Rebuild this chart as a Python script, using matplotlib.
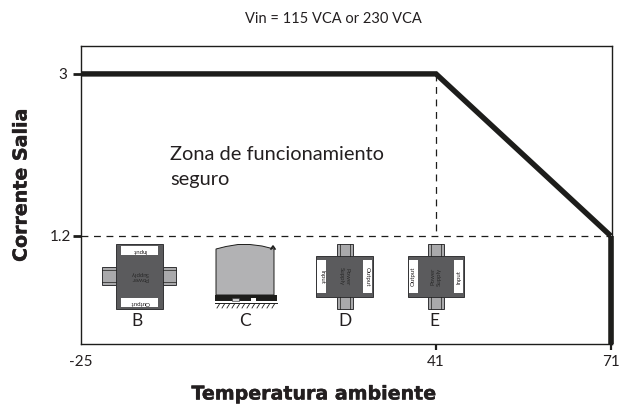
import numpy as np
import matplotlib
matplotlib.use("Agg")
import matplotlib.pyplot as plt
import matplotlib.patheffects as pe
from matplotlib.patches import Rectangle, Polygon

temp = [-25, 41, 71, 71]
current = [3, 3, 1.2, 0]
x_ticks = [-25, 41, 71]
y_ticks = [1.2, 3]
x_labels = ["-25", "41", "71"]
y_labels = ["1.2", "3"]

# the original x axis is not quite to scale, so piecewise
scale_in = [-25, 41, 71.2]
scale_out = [0, 355, 531]

DARK = "#5b5b5d"
RAIL = "#a9a9ab"
EDGE = "#1d1d1b"
TXT = "#231f20"

plt.rcParams["font.family"] = ["Lato", "DejaVu Sans"]

fig = plt.figure(figsize=(6.27, 4.07), dpi=100)
ax = fig.add_axes([81 / 627, 1 - 344 / 407, 531 / 627, 298 / 407])
ax.set_xscale("function", functions=(lambda v: np.interp(v, scale_in, scale_out),
                                     lambda v: np.interp(v, scale_out, scale_in)))
ax.set_xlim(-25, 71.2)
ax.set_ylim(0, 3.31)

ax.plot(temp[:3], current[:3], color=EDGE, lw=3.9, solid_capstyle="butt", solid_joinstyle="miter")
ax.plot(temp[2:], current[2:], color=EDGE, lw=4, solid_capstyle="butt", clip_on=False)
ax.plot([temp[1], temp[1]], [current[1], current[2]], color=EDGE, lw=0.9, dashes=(5.5, 4.5))
ax.plot([temp[0], temp[2]], [current[2], current[2]], color=EDGE, lw=0.9, dashes=(5.5, 4.5))

ax.set_xticks(x_ticks, x_labels)
ax.set_yticks(y_ticks, y_labels)
ax.tick_params(axis="x", length=4, width=1.6, color=EDGE, labelsize=11, labelcolor=TXT, pad=4)
ax.tick_params(axis="y", length=6, width=2, color=EDGE, labelsize=11, labelcolor=TXT, pad=1)
ax.yaxis.get_major_ticks()[1].set_pad(4)
ax.xaxis.get_majorticklines()[0].set_visible(False)
for s in ax.spines.values():
    s.set_linewidth(1)
    s.set_color(EDGE)

# overlay in pixels for the texts and mounting sketches
ov = fig.add_axes([0, 0, 1, 1])
ov.set_xlim(0, 627)
ov.set_ylim(407, 0)
ov.axis("off")

heavy = [pe.withStroke(linewidth=0.3, foreground=TXT)]

ov.text(333, 19, "Vin = 115 VCA or 230 VCA", ha="center", va="center", fontsize=10.5, color=TXT)
ov.text(170, 155, "Zona de funcionamiento", va="center", fontsize=14.4, color=TXT)
ov.text(170, 180, "seguro", va="center", fontsize=14.4, color=TXT)
ov.text(21, 185, "Corrente Salia", rotation=90, ha="center", va="center",
        fontsize=13.7, fontweight="bold", family="DejaVu Sans", color=TXT, path_effects=heavy)
ov.text(314, 394, "Temperatura ambiente", ha="center", va="center",
        fontsize=13.7, fontweight="bold", family="DejaVu Sans", color=TXT, path_effects=heavy)


def box(x0, y0, x1, y1, fc, ec="#333335", lw=0.7):
    ov.add_patch(Rectangle((x0, y0), x1 - x0, y1 - y0, fc=fc, ec=ec, lw=lw))


def label(x, y, s, rot, size=4.4, color=TXT):
    ov.text(x, y, s, rotation=rot, ha="center", va="center", fontsize=size, color=color)


def horizontal_unit():
    for x0, x1 in [(102, 116), (163, 176)]:
        box(x0, 267, x1, 285, RAIL)
        ov.plot([x0, x1], [270, 270], color=EDGE, lw=0.5)
        ov.plot([x0, x1], [282, 282], color=EDGE, lw=0.5)
    box(116, 244, 163, 309, DARK)
    box(121, 246, 158, 255, "white", ec="none")
    box(121, 298, 158, 307, "white", ec="none")
    label(139.5, 250.5, "Input", 180)
    label(139.5, 302.5, "Output", 180)
    label(139.5, 276, "Power\nSupply", 180, color="#2a2a2a")


def din_unit():
    # dome of the side view, outline traced by eye
    top = [(216, 295), (216, 249), (226, 246.5), (238, 244.5), (250, 244.5),
           (262, 246), (274, 249), (274, 295)]
    ov.add_patch(Polygon(top, fc="#b2b2b4", ec=EDGE, lw=0.7))
    ov.plot([271, 273, 275], [249, 246, 249], color=EDGE, lw=1.2)
    box(215, 295, 277, 301, EDGE, lw=0)
    box(232, 298, 239, 301, "#d0d0d0", lw=0.4)
    box(251, 298, 256, 301, "white", lw=0)
    ov.plot([215, 277], [303, 303], color=EDGE, lw=0.7)
    for x in range(217, 277, 5):
        ov.plot([x, x + 2.5], [308, 304], color=EDGE, lw=0.6)


def vertical_unit(x0, x1, left, right, rot):
    mid = (x0 + x1) / 2
    for y0, y1 in [(244, 256), (297, 309)]:
        box(mid - 8, y0, mid + 8, y1, RAIL)
        ov.plot([mid - 5, mid - 5], [y0, y1], color=EDGE, lw=0.5)
        ov.plot([mid + 5, mid + 5], [y0, y1], color=EDGE, lw=0.5)
    box(x0, 256, x1, 297, DARK)
    box(x0 + 1, 260, x0 + 10, 293, "white", ec="none")
    box(x1 - 10, 260, x1 - 1, 293, "white", ec="none")
    label(x0 + 5.5, 276.5, left, rot)
    label(x1 - 5.5, 276.5, right, rot)
    label(mid, 276.5, "Power\nSupply", rot, color="#2a2a2a")


horizontal_unit()
din_unit()
vertical_unit(316, 373, "Input", "Output", -90)
vertical_unit(408, 464, "Output", "Input", 90)

for x, s in zip([137, 245, 345, 434], ["B", "C", "D", "E"]):
    ov.text(x, 321, s, ha="center", va="center", fontsize=12.5, color=TXT)

fig.savefig("out.png", dpi=100)
